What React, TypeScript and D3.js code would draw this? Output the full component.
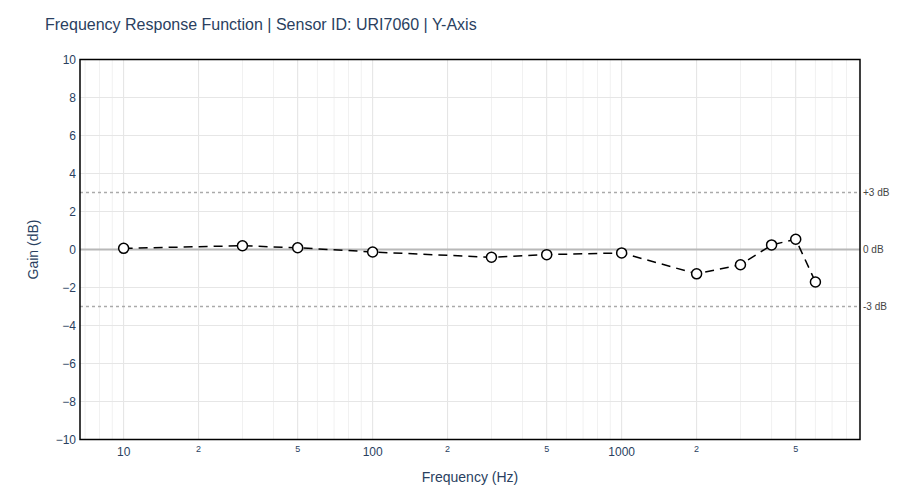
import React from "react";
import * as d3 from "d3";

const frequencies = [10, 30, 50, 100, 300, 500, 1000, 2000, 3000, 4000, 5000, 6000];
const gains = [0.06, 0.2, 0.09, -0.13, -0.41, -0.27, -0.18, -1.28, -0.8, 0.24, 0.54, -1.71];
const yTicks = [-10, -8, -6, -4, -2, 0, 2, 4, 6, 8, 10];
const refLines = [
  { value: 3, label: "+3 dB" },
  { value: 0, label: "0 dB" },
  { value: -3, label: "-3 dB" },
];
const title = "Frequency Response Function | Sensor ID: URI7060 | Y-Axis";

const width = 900;
const height = 500;
const margin = { top: 59.5, right: 40, bottom: 60.5, left: 80 };

export default function App() {
  const x = d3
    .scaleLog()
    .domain([6.68, 9060])
    .range([margin.left, width - margin.right]);
  const y = d3
    .scaleLinear()
    .domain([-10, 10])
    .range([height - margin.bottom, margin.top]);

  // every 1..9 multiple per decade for grid, 1/2/5 are "major"
  const gridVals: number[] = [];
  [1, 10, 100, 1000].forEach((dec) => {
    for (let m = 1; m <= 9; m++) {
      const v = dec * m;
      if (v >= 6.68 && v <= 9060) gridVals.push(v);
    }
  });
  const isMajor = (v: number) => {
    const m = Math.round(v / Math.pow(10, Math.floor(Math.log10(v) + 1e-9)));
    return m === 1 || m === 2 || m === 5;
  };
  const labelVals = gridVals.filter(isMajor);

  const points = frequencies.map((f, i) => [x(f), y(gains[i])] as [number, number]);
  const line = d3.line()(points) || "";

  const font = "'Liberation Sans', Arial, Helvetica, sans-serif";
  const textColor = "#2a3f5f";
  const x0 = margin.left;
  const x1 = width - margin.right;
  const y0 = margin.top;
  const y1 = height - margin.bottom;

  return (
    <div style={{ position: "absolute", left: 0, top: 0 }}>
      <svg width={width} height={height} style={{ display: "block", fontFamily: font }}>
        <rect width={width} height={height} fill="#fff" />
        {/* vertical grid */}
        {gridVals.map((v) => (
          <line
            key={"gx" + v}
            x1={x(v)}
            x2={x(v)}
            y1={y0}
            y2={y1}
            stroke={isMajor(v) ? "#e3e3e3" : "#f1f1f1"}
            strokeWidth={1}
          />
        ))}
        {/* horizontal grid */}
        {yTicks.map((t) => (
          <line key={"gy" + t} x1={x0} x2={x1} y1={y(t)} y2={y(t)} stroke="#e6e6e6" strokeWidth={1} />
        ))}
        {/* reference lines */}
        {refLines.map((r) => (
          <g key={r.label}>
            <line
              x1={x0}
              x2={x1}
              y1={y(r.value)}
              y2={y(r.value)}
              stroke={r.value === 0 ? "#b8b8b8" : "#aaaaaa"}
              strokeWidth={r.value === 0 ? 2 : 1.3}
              strokeDasharray={r.value === 0 ? undefined : "3,3"}
            />
            <text x={x1 + 3} y={y(r.value)} dy="0.35em" fontSize={10} fill="#444">
              {r.label}
            </text>
          </g>
        ))}
        {/* data line */}
        <path d={line} fill="none" stroke="#000" strokeWidth={1.5} strokeDasharray="9,6" />
        {points.map(([px, py], i) => (
          <circle key={"p" + i} cx={px} cy={py} r={5} fill="#fff" stroke="#000" strokeWidth={1.5} />
        ))}
        {/* frame */}
        <rect x={x0} y={y0} width={x1 - x0} height={y1 - y0} fill="none" stroke="#000" strokeWidth={1.5} />
        {/* y tick labels */}
        {yTicks.map((t) => (
          <text
            key={"yl" + t}
            x={x0 - 4}
            y={y(t)}
            dy="0.35em"
            textAnchor="end"
            fontSize={12}
            fill={textColor}
          >
            {t < 0 ? "\u2212" + Math.abs(t) : t}
          </text>
        ))}
        {/* x tick labels */}
        {labelVals.map((v) => {
          const dec = Math.pow(10, Math.floor(Math.log10(v) + 1e-9));
          const m = Math.round(v / dec);
          const big = m === 1;
          return (
            <text
              key={"xl" + v}
              x={x(v)}
              y={big ? y1 + 16 : y1 + 12}
              textAnchor="middle"
              fontSize={big ? 12 : 9}
              fill={textColor}
            >
              {big ? v : m}
            </text>
          );
        })}
        {/* axis titles */}
        <text x={(x0 + x1) / 2} y={482} textAnchor="middle" fontSize={14} fill={textColor}>
          Frequency (Hz)
        </text>
        <text
          transform={`translate(38, ${(y0 + y1) / 2}) rotate(-90)`}
          textAnchor="middle"
          fontSize={14}
          fill={textColor}
        >
          Gain (dB)
        </text>
        <text x={45} y={30} fontSize={16} fill={textColor}>
          {title}
        </text>
      </svg>
    </div>
  );
}
